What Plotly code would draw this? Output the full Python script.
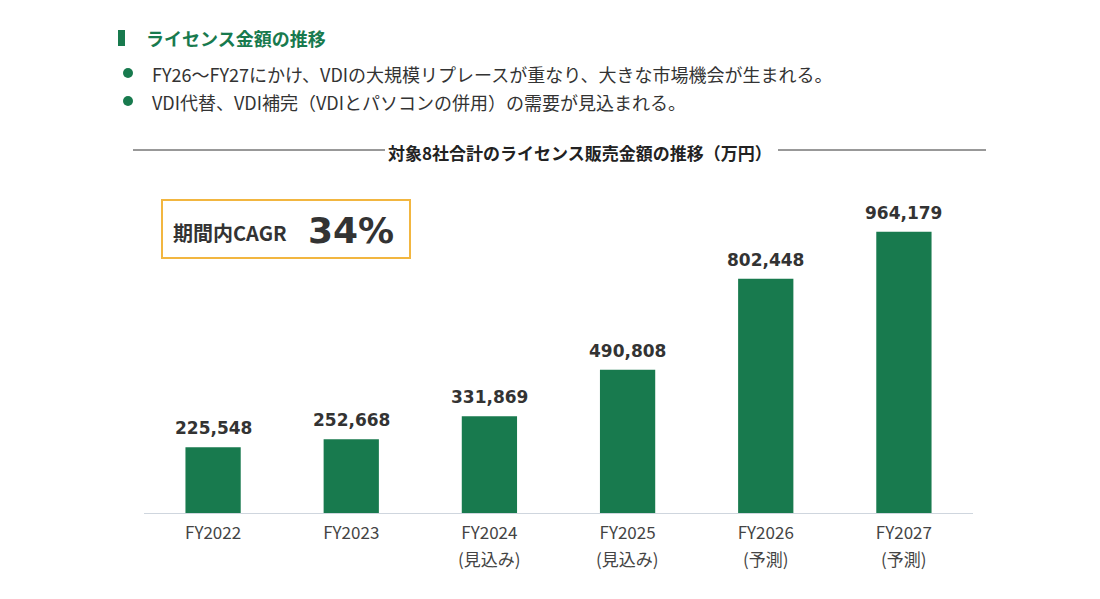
import plotly.graph_objects as go

# data
categories = ["FY2022", "FY2023", "FY2024", "FY2025", "FY2026", "FY2027"]
sub_labels = ["", "", "(見込み)", "(見込み)", "(予測)", "(予測)"]
license_sales = [225548, 252668, 331869, 490808, 802448, 964179]

header = "ライセンス金額の推移"
bullets = [
    "FY26～FY27にかけ、VDIの大規模リプレースが重なり、大きな市場機会が生まれる。",
    "VDI代替、VDI補完（VDIとパソコンの併用）の需要が見込まれる。",
]
chart_title = "対象8社合計のライセンス販売金額の推移（万円）"
cagr_label = "期間内CAGR"
cagr_value = "34%"

GREEN = "#187a4e"
TEXT = "#333333"
JP = "Noto Sans CJK JP"

# page is 1100x599, the figure sits 8px in from the top-left corner
W, H, OFF = 1100, 599, 8
# plot area in page pixels
L, R, T, B = 144, 973, 192, 513


def px(x):
    return (x - L) / (R - L)


def py(y):
    return (B - y) / (B - T)


fig = go.Figure()
fig.add_trace(go.Bar(
    x=categories,
    y=license_sales,
    marker_color=GREEN,
    marker_line_width=0,
    hoverinfo="skip",
))

# value labels above the bars
for c, v in zip(categories, license_sales):
    fig.add_annotation(
        x=c, y=v, text=f"{v:,}", showarrow=False,
        yanchor="bottom", yshift=7,
        font=dict(family="DejaVu Sans", size=17, color=TEXT, weight="bold"),
    )

# second line under the category ticks (見込み / 予測)
for c, s in zip(categories, sub_labels):
    if s:
        fig.add_annotation(
            x=c, xref="x", y=py(558), yref="paper", text=s, showarrow=False,
            yanchor="middle",
            font=dict(family=JP, size=17, color="#444444"),
        )

shapes = []
# header marker
shapes.append(dict(type="rect", xref="paper", yref="paper",
                   x0=px(118), x1=px(125), y0=py(46), y1=py(30),
                   fillcolor=GREEN, line_width=0))
# bullet dots
for yb in (73, 101):
    shapes.append(dict(type="circle", xref="paper", yref="paper",
                       x0=px(123), x1=px(133), y0=py(yb + 5), y1=py(yb - 5),
                       fillcolor=GREEN, line_width=0))
# title rules
for x0, x1 in ((133, 385), (778, 986)):
    shapes.append(dict(type="line", xref="paper", yref="paper",
                       x0=px(x0), x1=px(x1), y0=py(150), y1=py(150),
                       line=dict(color="#333333", width=1)))
# CAGR box
shapes.append(dict(type="rect", xref="paper", yref="paper",
                   x0=px(162), x1=px(410), y0=py(258), y1=py(200),
                   line=dict(color="#f2b640", width=2), fillcolor="white"))

texts = [
    dict(x=px(144), y=py(38), text=header,
         font=dict(family=JP, size=18, color=GREEN, weight="bold")),
    dict(x=px(150), y=py(74), text=bullets[0],
         font=dict(family=JP, size=18, color=TEXT)),
    dict(x=px(150), y=py(102), text=bullets[1],
         font=dict(family=JP, size=18, color=TEXT)),
    dict(x=px(171), y=py(232), text=cagr_label,
         font=dict(family=JP, size=20, color=TEXT, weight="bold")),
    dict(x=px(306), y=py(230), text=cagr_value,
         font=dict(family="DejaVu Sans", size=36, color=TEXT, weight="bold")),
]
for t in texts:
    fig.add_annotation(xref="paper", yref="paper", xanchor="left", yanchor="middle",
                       showarrow=False, **t)
fig.add_annotation(xref="paper", yref="paper", x=px(580), y=py(152),
                   xanchor="center", yanchor="middle", showarrow=False,
                   text=chart_title,
                   font=dict(family=JP, size=17, color="#222222", weight="bold"))

fig.update_layout(
    width=W - OFF, height=H - OFF,
    margin=dict(l=L - OFF, r=W - R, t=T - OFF, b=H - B),
    paper_bgcolor="white",
    plot_bgcolor="white",
    showlegend=False,
    bargap=0.6,
    shapes=shapes,
    xaxis=dict(
        tickvals=categories, ticktext=categories,
        showline=True, linecolor="#cfd6de", linewidth=1,
        showgrid=False, ticks="", ticklabelstandoff=5,
        tickfont=dict(family=JP, size=17, color="#444444"),
    ),
    yaxis=dict(range=[0, 1100000], visible=False, showgrid=False, zeroline=False),
)

fig.write_html("out.html")
